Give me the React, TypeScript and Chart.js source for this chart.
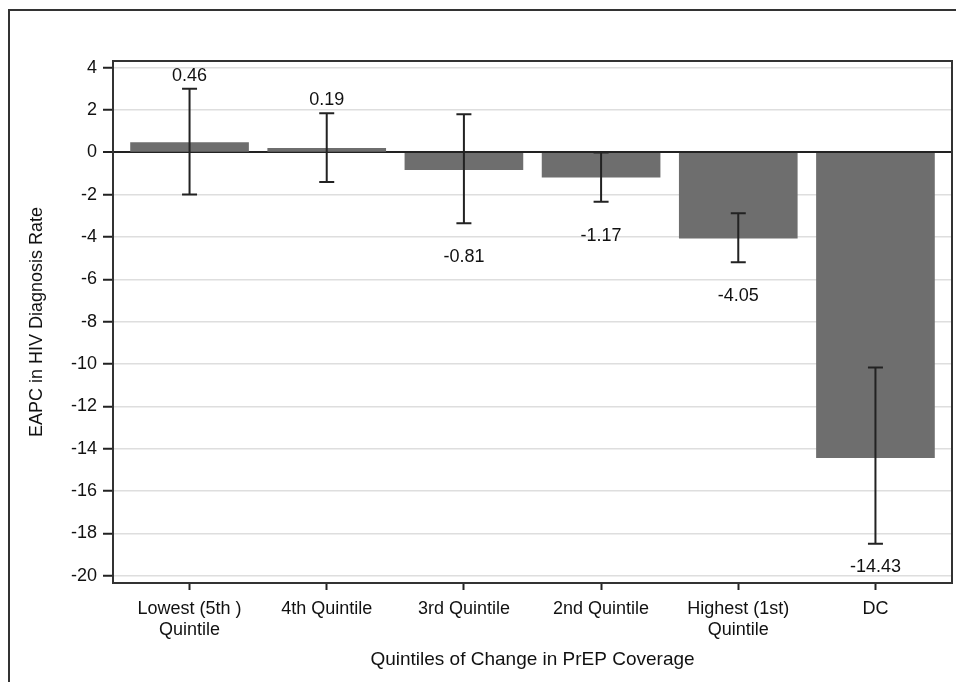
import React, { useEffect, useRef } from 'react';
import { Chart, registerables } from 'chart.js';

Chart.register(...registerables);

const categories: string[][] = [
  ['Lowest (5th )', 'Quintile'],
  ['4th Quintile'],
  ['3rd Quintile'],
  ['2nd Quintile'],
  ['Highest (1st)', 'Quintile'],
  ['DC'],
];
const values = [0.46, 0.19, -0.81, -1.17, -4.05, -14.43];
const lowerCI = [-1.99, -1.4, -3.35, -2.33, -5.19, -18.5];
const upperCI = [3.01, 1.85, 1.8, 0.0, -2.87, -10.16];
const yTicks = [4, 2, 0, -2, -4, -6, -8, -10, -12, -14, -16, -18, -20];

const FONT = "'Liberation Sans', Arial, sans-serif";
const DARK = '#222222';

export default function App() {
  const ref = useRef<HTMLCanvasElement | null>(null);

  useEffect(() => {
    const canvas = ref.current;
    if (!canvas) return;

    const framePlugin = {
      id: 'frame',
      beforeDraw(chart: any) {
        const { ctx, width, height } = chart;
        ctx.save();
        ctx.fillStyle = '#ffffff';
        ctx.fillRect(0, 0, width, height);
        ctx.strokeStyle = '#333333';
        ctx.lineWidth = 2;
        ctx.beginPath();
        ctx.moveTo(9, height);
        ctx.lineTo(9, 10);
        ctx.lineTo(width, 10);
        ctx.stroke();
        ctx.restore();
      },
    };

    const overlayPlugin = {
      id: 'overlay',
      afterDatasetsDraw(chart: any) {
        const { ctx, chartArea, scales } = chart;
        const xs = scales.x;
        const ys = scales.y;
        ctx.save();
        // error bars
        ctx.strokeStyle = DARK;
        ctx.lineWidth = 2;
        for (let i = 0; i < values.length; i++) {
          const x = xs.getPixelForValue(i);
          const yl = ys.getPixelForValue(lowerCI[i]);
          const yu = ys.getPixelForValue(upperCI[i]);
          ctx.beginPath();
          ctx.moveTo(x, yu);
          ctx.lineTo(x, yl);
          ctx.moveTo(x - 7.5, yu);
          ctx.lineTo(x + 7.5, yu);
          ctx.moveTo(x - 7.5, yl);
          ctx.lineTo(x + 7.5, yl);
          ctx.stroke();
        }
        // value labels
        ctx.fillStyle = '#111111';
        ctx.font = `18px ${FONT}`;
        ctx.textAlign = 'center';
        ctx.textBaseline = 'middle';
        for (let i = 0; i < values.length; i++) {
          const x = xs.getPixelForValue(i);
          let y: number;
          if (values[i] >= 0) {
            y = ys.getPixelForValue(upperCI[i]) - 13;
          } else {
            y = Math.min(ys.getPixelForValue(lowerCI[i]) + 34, chartArea.bottom - 16);
          }
          ctx.fillText(values[i].toFixed(2), x, y);
        }
        // plot border
        ctx.strokeStyle = '#333333';
        ctx.lineWidth = 2;
        ctx.strokeRect(chartArea.left, chartArea.top, chartArea.right - chartArea.left, chartArea.bottom - chartArea.top);
        ctx.restore();
      },
    };

    const chart = new Chart(canvas, {
      type: 'bar',
      data: {
        datasets: [
          {
            data: values.map((v, i) => ({ x: i, y: v })),
            backgroundColor: '#6e6e6e',
            borderWidth: 0,
            barThickness: 118,
          } as any,
        ],
      },
      options: {
        responsive: false,
        animation: false,
        devicePixelRatio: 1,
        layout: { padding: { left: 0, top: 61, right: 4, bottom: 0 } },
        plugins: {
          legend: { display: false },
          tooltip: { enabled: false },
        },
        scales: {
          x: {
            type: 'linear',
            offset: false,
            min: -0.558,
            max: 5.558,
            afterFit: (s: any) => {
              s.height = 99;
            },
            afterBuildTicks: (s: any) => {
              s.ticks = categories.map((_, i) => ({ value: i }));
            },
            ticks: {
              callback: (v: any) => categories[v as number] ?? '',
              font: { family: FONT, size: 18, lineHeight: 1.2 },
              color: '#111111',
              padding: 8,
              maxRotation: 0,
              autoSkip: false,
            },
            grid: {
              display: true,
              offset: false,
              drawOnChartArea: false,
              drawTicks: true,
              tickLength: 7,
              tickColor: DARK,
              tickWidth: 2,
            },
            border: { display: false },
            title: {
              display: true,
              text: 'Quintiles of Change in PrEP Coverage',
              font: { family: FONT, size: 19, lineHeight: 1.2 },
              color: '#111111',
              padding: { top: 0, bottom: 11 },
            },
          },
          y: {
            type: 'linear',
            min: -20.35,
            max: 4.32,
            afterFit: (s: any) => {
              s.width = 113;
            },
            afterBuildTicks: (s: any) => {
              s.ticks = yTicks.map((v) => ({ value: v }));
            },
            ticks: {
              callback: (v: any) => String(v),
              font: { family: FONT, size: 18 },
              color: '#111111',
              padding: 6,
            },
            grid: {
              color: (c: any) => (c.tick && c.tick.value === 0 ? DARK : '#dedede'),
              lineWidth: (c: any) => (c.tick && c.tick.value === 0 ? 2 : 1.5),
              drawTicks: true,
              tickLength: 10,
              tickColor: DARK,
              tickWidth: 2,
            },
            border: { display: false },
            title: {
              display: true,
              text: 'EAPC in HIV Diagnosis Rate',
              font: { family: FONT, size: 18, lineHeight: 1.2 },
              color: '#111111',
              padding: { top: 26, bottom: 0 },
            },
          },
        },
      },
      plugins: [framePlugin, overlayPlugin],
    } as any);

    return () => {
      chart.destroy();
    };
  }, []);

  return (
    <div style={{ position: 'fixed', left: 0, top: 0, width: 956, height: 682, background: '#fff' }}>
      <canvas ref={ref} width={956} height={682} style={{ display: 'block' }} />
    </div>
  );
}
